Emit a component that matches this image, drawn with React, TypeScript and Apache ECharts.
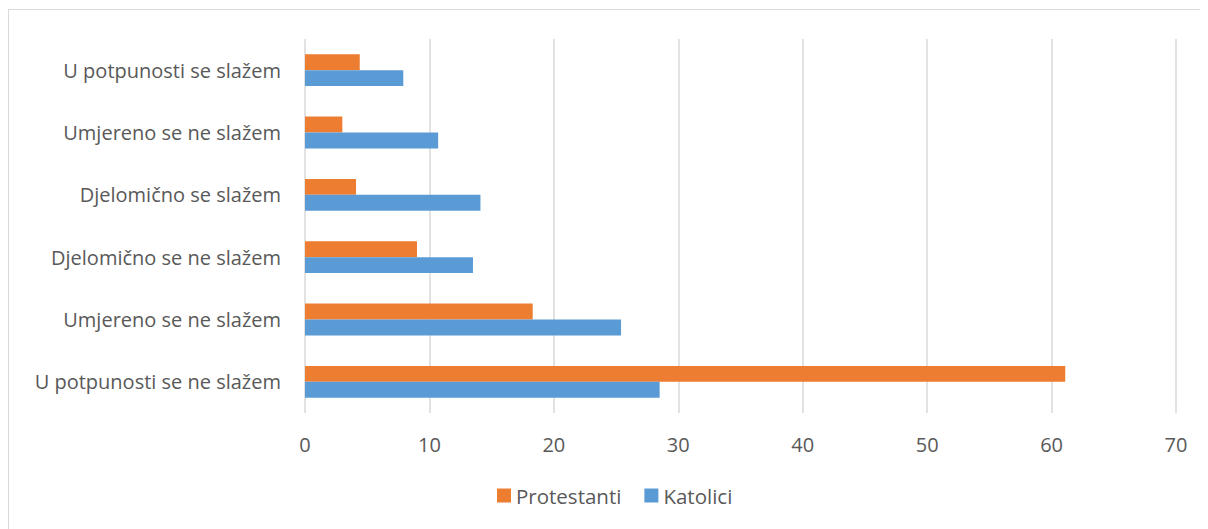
import React, { useEffect, useRef } from "react";
import * as echarts from "echarts";

const categories = [
  "U potpunosti se ne slažem",
  "Umjereno se ne slažem",
  "Djelomično se ne slažem",
  "Djelomično se slažem",
  "Umjereno se ne slažem",
  "U potpunosti se slažem",
];
const katolici = [28.5, 25.4, 13.5, 14.1, 10.7, 7.9];
const protestanti = [61.1, 18.3, 9.0, 4.1, 3.0, 4.4];
const xTicks = [0, 10, 20, 30, 40, 50, 60, 70];

const FONT = "Open Sans";

export default function App() {
  const ref = useRef<HTMLDivElement>(null);
  useEffect(() => {
    if (!ref.current) return;
    const chart = echarts.init(ref.current, undefined, { renderer: "svg" });
    chart.setOption({
      animation: false,
      textStyle: { fontFamily: FONT },
      grid: { left: 296, right: 32, top: 29, bottom: 116 },
      legend: {
        data: ["Protestanti", "Katolici"],
        left: 488,
        top: 475,
        padding: 0,
        itemWidth: 14,
        itemHeight: 14,
        itemGap: 23,
        icon: "rect",
        textStyle: { fontFamily: FONT, fontSize: 20.5, color: "#595959" },
      },
      xAxis: {
        type: "value",
        min: xTicks[0],
        max: xTicks[xTicks.length - 1],
        interval: 10,
        axisLine: { show: false },
        axisTick: { show: false },
        splitLine: { show: true, lineStyle: { color: "#d9d9d9", width: 1.5 } },
        axisLabel: { color: "#595959", fontSize: 20, margin: 21, fontFamily: FONT },
      },
      yAxis: {
        type: "category",
        data: categories,
        axisLine: { show: false },
        axisTick: { show: false },
        splitLine: { show: false },
        axisLabel: { color: "#595959", fontSize: 20, margin: 24, fontFamily: FONT },
      },
      series: [
        {
          name: "Protestanti",
          type: "bar",
          data: protestanti,
          barGap: "0%",
          barCategoryGap: "49%",
          itemStyle: { color: "#ED7D31" },
        },
        {
          name: "Katolici",
          type: "bar",
          data: katolici,
          barGap: "0%",
          barCategoryGap: "49%",
          itemStyle: { color: "#5B9BD5" },
        },
      ],
    });
    return () => chart.dispose();
  }, []);
  return (
    <div
      style={{
        marginTop: 1,
        borderTop: "1px solid #d9d9d9",
        borderLeft: "1px solid #d9d9d9",
        width: 1199,
        height: 519,
        background: "#fff",
      }}
    >
      <div ref={ref} style={{ width: 1199, height: 519 }} />
    </div>
  );
}
